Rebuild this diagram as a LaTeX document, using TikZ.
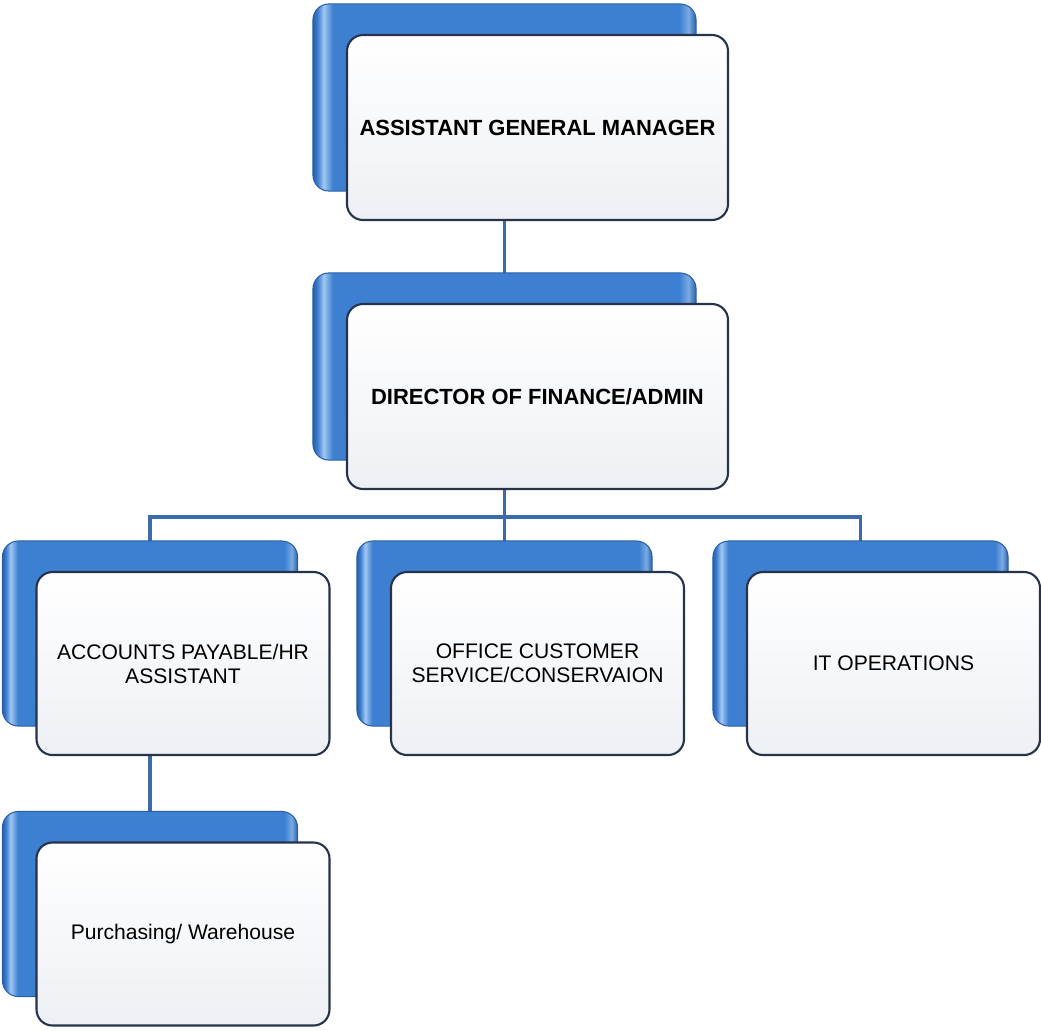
\documentclass[tikz,border=0pt]{standalone}
\usepackage{fontspec}
\setmainfont{Liberation Sans}
\usepackage{tikz}
\usetikzlibrary{backgrounds, calc}
\definecolor{bluemid}{HTML}{3D7FD1}
\definecolor{bluelight}{HTML}{A2C8F2}
\definecolor{bluedark}{HTML}{2A5FA6}
\definecolor{linkblue}{HTML}{3B6BAB}
\definecolor{framenavy}{HTML}{27334A}
\definecolor{panelgrey}{HTML}{EDF0F4}
\pgfdeclarehorizontalshading{bluegloss}{100bp}{color(0bp)=(bluedark); color(25bp)=(bluedark); color(25.6bp)=(bluemid); color(26.4bp)=(bluelight); color(27.6bp)=(bluemid); color(72.8bp)=(bluemid); color(74bp)=(bluelight!60!bluemid); color(75bp)=(bluedark); color(100bp)=(bluedark)}
\tikzstyle{post} = [rectangle, rounded corners=0.32cm, minimum width=7.62cm, minimum height=3.7cm, text centered, align=center, draw=framenavy, line width=1.2pt, top color=white, bottom color=panelgrey, font=\fontsize{12.5}{14}\selectfont\bfseries]
\tikzstyle{subpost} = [post, minimum width=5.86cm, minimum height=3.66cm, font=\fontsize{12}{13.6}\selectfont]
\tikzstyle{back} = [rounded corners=0.32cm, shading=bluegloss, draw=bluedark, line width=0.6pt]
\tikzstyle{link} = [linkblue, line width=2.2pt]
\begin{document}
\begin{tikzpicture}[node distance=5.38cm]
\useasboundingbox (0,0) rectangle (20.82,-20.6);
\node (agm) [post] at (10.75,-2.55) {ASSISTANT GENERAL MANAGER};
\node (dir) [post, below of=agm] {DIRECTOR OF FINANCE/ADMIN};
\node (ocs) [subpost, below of=dir, yshift=0.04cm] {OFFICE CUSTOMER\\SERVICE/CONSERVAION};
\node (ap) [subpost, left of=ocs, xshift=-1.71cm] {ACCOUNTS PAYABLE/HR\\ASSISTANT};
\node (ito) [subpost, right of=ocs, xshift=1.74cm] {IT OPERATIONS};
\node (pw) [subpost, below of=ap, yshift=-0.03cm] {Purchasing/ Warehouse};
\begin{scope}[on background layer]
  % centres of the blue cards behind
  \foreach \n in {agm,dir,ap,ocs,ito,pw}
    \coordinate (\n-b) at ([xshift=-0.66cm,yshift=0.6cm]\n.center);
  \coordinate (bus) at ($(dir-b |- dir.south)+(0,-0.54)$);
  \draw [link] (agm-b) -- (dir-b);
  \draw [link] (dir-b) -- (bus);
  \draw [link] (ap-b) |- (bus) -| (ito-b);
  \draw [link] (ocs-b) -- (ocs-b |- bus);
  \draw [link] (ap-b) -- (pw-b);
  \foreach \n in {agm,dir,ap,ocs,ito,pw}
    \path [back] ([xshift=-0.66cm,yshift=0.6cm]\n.south west) rectangle ([xshift=-0.66cm,yshift=0.6cm]\n.north east);
\end{scope}
\end{tikzpicture}
\end{document}
